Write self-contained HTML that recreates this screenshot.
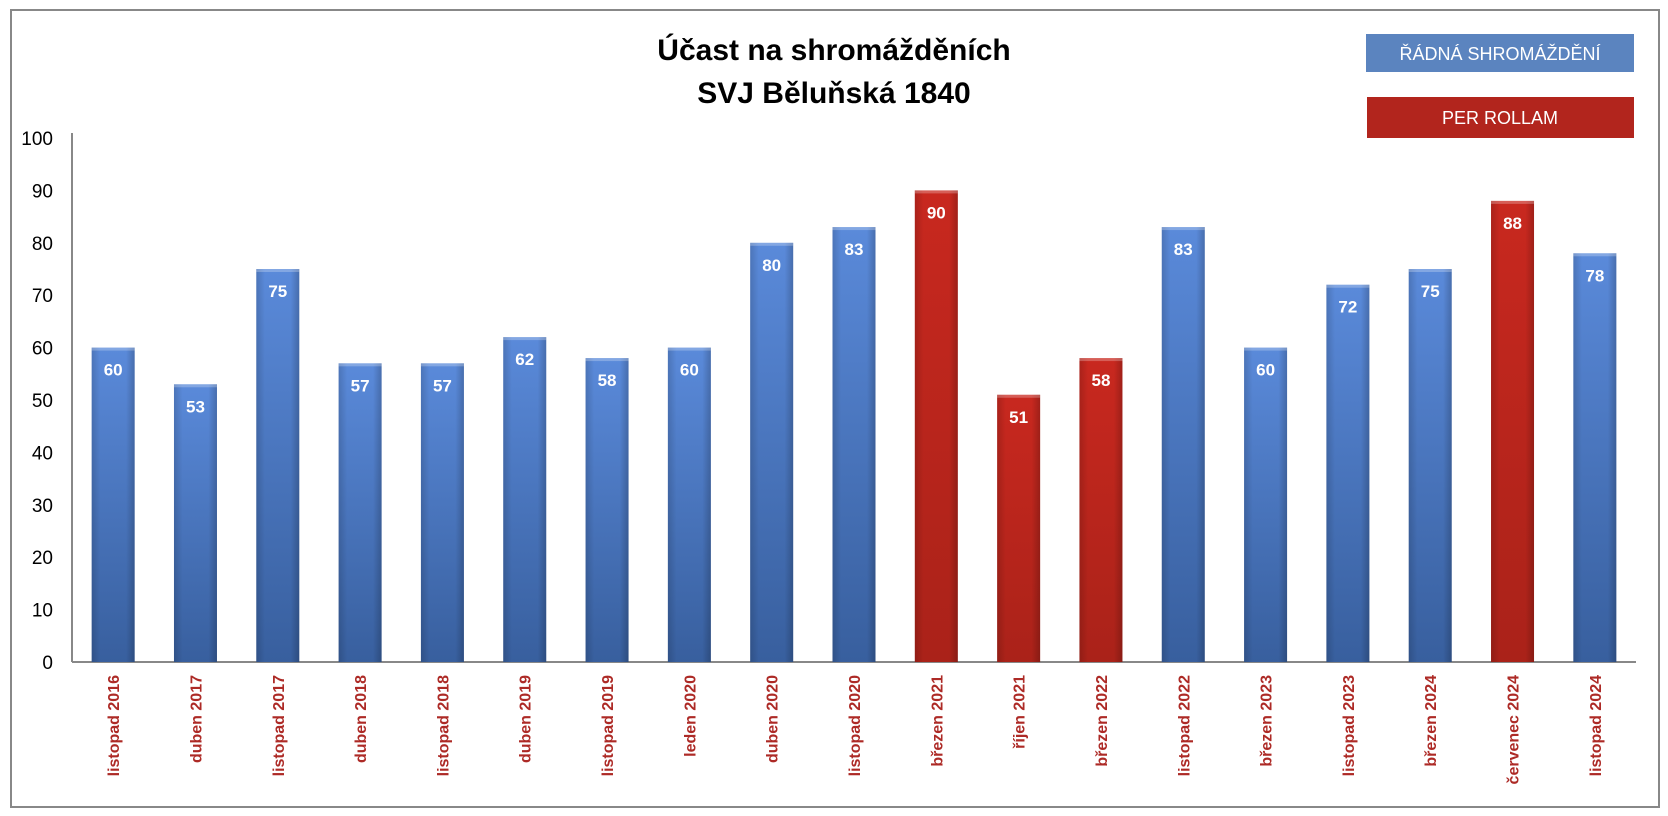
<!DOCTYPE html>
<html><head><meta charset="utf-8"><style>
body{margin:0;background:#fff;}
svg{display:block;font-family:"Liberation Sans",sans-serif;}
</style></head><body>
<svg id="chart" width="1668" height="816">
<defs>
<linearGradient id="gb" x1="0" y1="0" x2="0" y2="1"><stop offset="0" stop-color="#5a8ada"/><stop offset="1" stop-color="#385f9e"/></linearGradient>
<linearGradient id="gr" x1="0" y1="0" x2="0" y2="1"><stop offset="0" stop-color="#c8281f"/><stop offset="1" stop-color="#aa2219"/></linearGradient>
<linearGradient id="sh" x1="0" y1="0" x2="1" y2="0"><stop offset="0" stop-color="#000" stop-opacity="0.15"/><stop offset="0.2" stop-color="#000" stop-opacity="0"/><stop offset="0.8" stop-color="#000" stop-opacity="0"/><stop offset="1" stop-color="#000" stop-opacity="0.2"/></linearGradient>
</defs>
<rect x="11" y="10" width="1648" height="797" fill="#fff" stroke="#888" stroke-width="2"/>
<text x="834" y="60" text-anchor="middle" font-size="30" font-weight="bold">Účast na shromážděních</text>
<text x="834" y="103" text-anchor="middle" font-size="30" font-weight="bold">SVJ Běluňská 1840</text>
<g><rect x="1366" y="34" width="268" height="38" fill="#5b84bf"/><text x="1500" y="60" text-anchor="middle" fill="#fff" font-size="18">ŘÁDNÁ SHROMÁŽDĚNÍ</text></g>
<g><rect x="1367" y="97" width="267" height="41" fill="#b2251d"/><text x="1500" y="124" text-anchor="middle" fill="#fff" font-size="18">PER ROLLAM</text></g>
<g id="plot"></g>
</svg>
<script>
const categories=["listopad 2016","duben 2017","listopad 2017","duben 2018","listopad 2018","duben 2019","listopad 2019","leden 2020","duben 2020","listopad 2020","březen 2021","říjen 2021","březen 2022","listopad 2022","březen 2023","listopad 2023","březen 2024","červenec 2024","listopad 2024"];
const values=[60,53,75,57,57,62,58,60,80,83,90,51,58,83,60,72,75,88,78];
const types=["r","r","r","r","r","r","r","r","r","r","p","p","p","r","r","r","r","p","r"];
const yTicks=[0,10,20,30,40,50,60,70,80,90,100];
const NS="http://www.w3.org/2000/svg";
const g=document.getElementById('plot');
const x0=72,x1=1636,yTop=138,yBot=662,ymax=100;
const step=(x1-x0)/categories.length,bw=43;
const y=v=>yBot-(v/ymax)*(yBot-yTop);
const xc=i=>x0+step*(i+0.5);
function mk(t,a){const e=document.createElementNS(NS,t);for(const k in a)e.setAttribute(k,a[k]);g.appendChild(e);return e;}
yTicks.forEach(t=>{const e=mk('text',{x:53,y:y(t)+7,'text-anchor':'end','font-size':19});e.textContent=t;

});
let ax=mk('line',{x1:x0,y1:yTop-5,x2:x0,y2:yBot,stroke:'#888','stroke-width':2});


let bx=mk('line',{x1:x0,y1:yBot,x2:x1,y2:yBot,stroke:'#888','stroke-width':2});


values.forEach((v,i)=>{
 const X=xc(i)-bw/2,Y=y(v),H=yBot-Y;
 const r=mk('rect',{x:X,y:Y,width:bw,height:H,fill:types[i]=='p'?'url(#gr)':'url(#gb)'});
 
 
 mk('rect',{x:X,y:Y,width:bw,height:H,fill:'url(#sh)'});
 mk('rect',{x:X,y:Y,width:bw,height:3,fill:'#fff','fill-opacity':0.25});
 const l=mk('text',{x:xc(i),y:Y+28,'text-anchor':'middle',fill:'#fff','font-size':17,'font-weight':'bold'});l.textContent=v;
 
 
 const c=mk('text',{x:0,y:0,'text-anchor':'end',fill:'#ad2a26','font-size':16,'font-weight':'bold',transform:`translate(${xc(i)+6},675) rotate(-90)`});c.textContent=categories[i];
 
 
});
</script>
</body></html>
